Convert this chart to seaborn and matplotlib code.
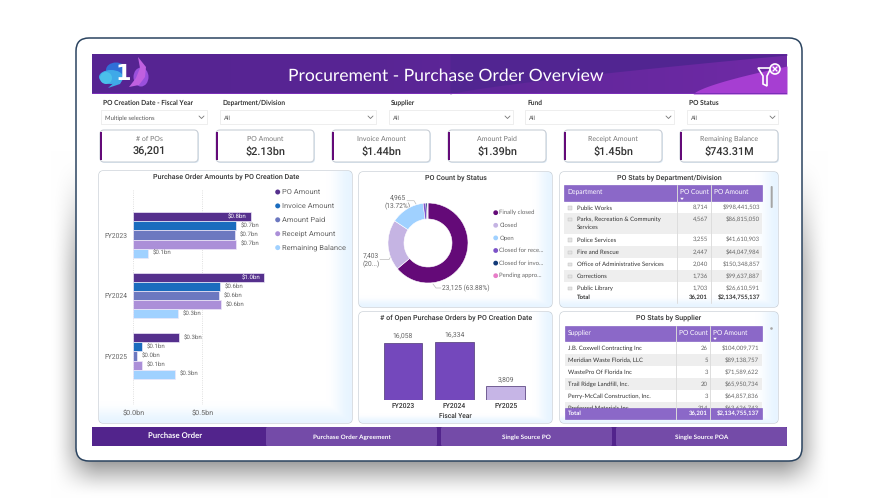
import numpy as np
import pandas as pd
import matplotlib
matplotlib.use("Agg")
import matplotlib.pyplot as plt
from matplotlib.patches import FancyBboxPatch, Rectangle, Circle, Ellipse, Polygon
import seaborn as sns

# --- data ---
years = ["FY2023", "FY2024", "FY2025"]
measures = ["PO Amount", "Invoice Amount", "Amount Paid", "Receipt Amount", "Remaining Balance"]
po_amount = [0.85, 0.95, 0.33]
invoice_amount = [0.745, 0.63, 0.063]
amount_paid = [0.735, 0.62, 0.03]
receipt_amount = [0.745, 0.635, 0.063]
remaining_balance = [0.105, 0.325, 0.30]
bar_labels = [
    ["$0.8bn", "$1.0bn", "$0.3bn"],
    ["$0.7bn", "$0.6bn", "$0.1bn"],
    ["$0.7bn", "$0.6bn", "$0.0bn"],
    ["$0.7bn", "$0.6bn", "$0.1bn"],
    ["$0.1bn", "$0.3bn", "$0.3bn"],
]
measure_colors = ["#55308D", "#1A6CBE", "#6C78C0", "#AB8FD8", "#A0D1FF"]

status_names = ["Finally closed", "Closed", "Open", "Closed for rece...", "Closed for invo...", "Pending appro..."]
status_counts = [23125, 7403, 4965, 400, 250, 58]
status_colors = ["#640A78", "#C5B4E3", "#A0D1FF", "#7C52C8", "#123A78", "#E77DC8"]

open_counts = [16058, 16334, 3809]
open_labels = ["16,058", "16,334", "3,809"]
open_colors = ["#7448BC", "#7448BC", "#C6B5E6"]

filter_names = ["PO Creation Date - Fiscal Year", "Department/Division", "Supplier", "Fund", "PO Status"]
filter_values = ["Multiple selections", "All", "All", "All", "All"]
card_names = ["# of POs", "PO Amount", "Invoice Amount", "Amount Paid", "Receipt Amount", "Remaining Balance"]
card_values = ["36,201", "$2.13bn", "$1.44bn", "$1.39bn", "$1.45bn", "$743.31M"]

dept_names = ["Public Works", "Parks, Recreation & Community\nServices", "Police Services", "Fire and Rescue",
              "Office of Administrative Services", "Corrections", "Public Library"]
dept_counts = ["8,714", "4,567", "3,255", "2,447", "2,040", "1,736", "1,703"]
dept_amounts = ["$998,441,503", "$86,815,050", "$41,610,903", "$44,047,984", "$150,348,857", "$99,637,887", "$26,610,591"]

supplier_names = ["J.B. Coxwell Contracting Inc", "Meridian Waste Florida, LLC", "WastePro Of Florida Inc",
                  "Trail Ridge Landfill, Inc.", "Perry-McCall Construction, Inc.", "Preferred Materials Inc"]
supplier_counts = ["26", "5", "3", "20", "3", "314"]
supplier_amounts = ["$104,009,771", "$89,138,757", "$71,589,622", "$65,950,734", "$64,857,836", "$63,626,743"]

tab_names = ["Purchase Order", "Purchase Order Agreement", "Single Source PO", "Single Source POA"]

W, H = 878, 500
UI = "Lato"
DIN = "Roboto"
GREY = "#666666"
DARK = "#333333"
PURPLE_HEAD = "#8B68C8"
BODY = 4.3

sns.set_theme(style="white")
plt.rcParams["font.family"] = [UI, "DejaVu Sans"]
plt.rcParams["text.hinting"] = "no_hinting"

fig = plt.figure(figsize=(W / 100, H / 100), dpi=100, facecolor="white")
bg = fig.add_axes([0, 0, 1, 1], zorder=0)


def px_axes(x0, y0, x1, y1):
    a = fig.add_axes([x0 / W, 1 - y1 / H, (x1 - x0) / W, (y1 - y0) / H], zorder=5)
    a.patch.set_alpha(0)
    return a


def smooth(t):
    t = np.clip(t, 0, 1)
    return t * t * (3 - 2 * t)


# soft shadow behind the device frame
yy, xx = np.mgrid[0:H, 0:W]
sx = smooth((xx - 50) / 50) * smooth((828 - xx) / 50)
sy = smooth((yy - 150) / 130) * smooth((498 - yy) / 55)
shade = 1 - 0.5 * sx * sy
bg.imshow(np.dstack([shade] * 3), extent=(0, W, H, 0), aspect="auto", zorder=0, vmin=0, vmax=1)

bg.add_patch(FancyBboxPatch((76, 38), 726, 423, boxstyle="round,pad=0,rounding_size=13",
                            fc="white", ec="#2B4460", lw=1.1, zorder=1))

# banner
gx = np.linspace(0, 1, 200)
banner = np.array([np.interp(gx, [0, 0.4, 1], [0x56, 0x58, 0x70]), np.interp(gx, [0, 0.4, 1], [0x24, 0x25, 0x2A]),
                   np.interp(gx, [0, 0.4, 1], [0x92, 0x94, 0xA6])]).T[None, :, :] / 255
bg.imshow(banner, extent=(92, 787, 94, 54), aspect="auto", zorder=2)
cx = np.linspace(450, 787, 80)
bg.fill_between(cx, 54, 94 - 39 * ((cx - 450) / 337) ** 0.8, color="#512591", lw=0, zorder=2.1)
cx = np.linspace(693, 787, 40)
bg.fill_between(cx, 94 - 28 * ((cx - 693) / 94) ** 0.7, 94, color="#A63ED2", lw=0, zorder=2.2)
bg.add_patch(Rectangle((92, 93), 695, 1, fc="#7A2FB8", lw=0, zorder=2.3))

# logo
for (ex, ey, ew, eh, col) in [(141, 77, 15, 19, "#9A50DC"), (116, 70, 20, 15, "#2F6FD8"),
                              (111, 77, 24, 14, "#3FA9E8"), (106, 78, 12, 12, "#4BC0EA")]:
    bg.add_patch(Ellipse((ex, ey), ew, eh, fc=col, lw=0, zorder=3))
bg.add_patch(Polygon([(138, 57), (146, 67), (145, 77), (139, 85), (129, 87), (136, 78), (140, 68)],
                     fc="#C060E0", lw=0, zorder=3.1))
bg.add_patch(Polygon([(108, 88), (117, 80), (125, 76), (120, 84)], fc="#3FA9E8", lw=0, zorder=3.1))
bg.text(123.5, 74, "1", color="white", fontsize=16, fontweight="heavy", ha="center", va="center",
        family="DejaVu Sans", zorder=4)

bg.text(445.5, 76.5, "Procurement - Purchase Order Overview", color="white", fontsize=12.6, ha="center",
        va="center", zorder=4)

# clear-filter icon
bg.add_patch(Polygon([(758, 68), (771, 68), (767, 76), (767, 86), (763, 84), (763, 76)], closed=True,
                     fc="none", ec="white", lw=1.2, zorder=4))
bg.add_patch(Circle((775, 69), 5, fc="#A63ED2", ec="white", lw=1.2, zorder=4.1))
bg.plot([773, 777], [67, 71], color="white", lw=1, zorder=4.2)
bg.plot([773, 777], [71, 67], color="white", lw=1, zorder=4.2)

# slicers
filter_x = [(101, 207), (220, 376), (389, 513), (525, 674), (687, 778)]
for (x0, x1), name, val in zip(filter_x, filter_names, filter_values):
    bg.text(x0 + 2, 102.5, name, fontsize=4.8, color=DARK, fontweight="bold", va="center", zorder=4)
    bg.add_patch(Rectangle((x0, 110), x1 - x0, 14, fc="white", ec="#EBEBEB", lw=0.6, zorder=3))
    bg.text(x0 + 4, 118, val, fontsize=BODY, color="#555555", va="center", zorder=4)
    bg.plot([x1 - 8, x1 - 5.5, x1 - 3], [116, 118.5, 116], color="#777777", lw=0.6, zorder=4)

# KPI cards
card_x = [100, 216, 332, 448, 564, 680]
for x0, name, val in zip(card_x, card_names, card_values):
    bg.add_patch(FancyBboxPatch((x0 + 1, 131), 98, 32, boxstyle="round,pad=0,rounding_size=4",
                                fc="#DDEBF6", ec="none", zorder=2.5))
    bg.add_patch(FancyBboxPatch((x0, 130), 98, 32, boxstyle="round,pad=0,rounding_size=4",
                                fc="white", ec="#C9CFD6", lw=0.8, zorder=3))
    bg.add_patch(Rectangle((x0, 132), 1.6, 28, fc="#640A78", lw=0, zorder=3.2))
    bg.text(x0 + 49, 139, name, fontsize=5.0, color="#777777", ha="center", va="center", zorder=4)
    bg.text(x0 + 49, 151.5, val, fontsize=7.8, color=DARK, family=DIN, fontweight="medium",
            ha="center", va="center", zorder=4)


# panels with pale blue glow on the right and bottom edges
def panel(x0, y0, x1, y1, title, tx):
    w, h = x1 - x0, y1 - y0
    px = np.linspace(0, 1, 120)
    py = np.linspace(0, 1, 120)
    glow = np.maximum(smooth((px - 0.9) / 0.1)[None, :], smooth((py - 0.92) / 0.08)[:, None])
    img = np.ones((120, 120, 3))
    img[..., 0] -= glow * 0.09
    img[..., 1] -= glow * 0.04
    box = FancyBboxPatch((x0, y0), w, h, boxstyle="round,pad=0,rounding_size=4", fc="white",
                         ec="#BFC7CF", lw=0.8, zorder=3)
    bg.add_patch(box)
    im = bg.imshow(img, extent=(x0, x1, y1, y0), aspect="auto", zorder=3.1)
    im.set_clip_path(box)
    bg.text(tx, y0 + 5.5, title, fontsize=5.1, family=DIN, fontweight="medium", color=DARK, ha="center",
            va="center", zorder=4)


panel(99, 171, 352, 423, "Purchase Order Amounts by PO Creation Date", 225.7)
panel(359, 172, 552, 307, "PO Count by Status", 455.7)
panel(359, 312, 552, 423, "# of Open Purchase Orders by PO Creation Date", 455.7)
panel(560, 172, 778, 307, "PO Stats by Department/Division", 669)
panel(560, 312, 778, 423, "PO Stats by Supplier", 669)

# --- clustered bars ---
bars = pd.DataFrame({
    "year": years * len(measures),
    "measure": np.repeat(measures, len(years)),
    "value": po_amount + invoice_amount + amount_paid + receipt_amount + remaining_balance,
})
ax = px_axes(133.3, 190, 350, 405)
sns.barplot(data=bars, y="year", x="value", hue="measure", hue_order=measures, palette=measure_colors,
            order=years, width=0.75, gap=0, dodge=True, saturation=1, legend=False, ax=ax,
            edgecolor="#EDE7F8", linewidth=0.5)
ax.set_ylim(2.81, -0.744)
ax.set_xlim(0, 1.57)
ax.set_xticks([0, 0.5])
ax.set_xticklabels(["$0.0bn", "$0.5bn"], fontsize=5.2, color=GREY, family=DIN)
ax.tick_params(axis="x", length=0, pad=3.5)
ax.tick_params(axis="y", length=0, pad=4)
ax.set_xlabel("")
ax.set_ylabel("")
for t in ax.get_yticklabels():
    t.set_fontsize(4.9)
    t.set_color(GREY)
    t.set_family(DIN)
ax.grid(axis="x", color="#D5D5D5", ls=":", lw=0.6)
ax.set_axisbelow(True)
sns.despine(ax=ax, left=True, bottom=True)
for container, labels in zip(ax.containers, bar_labels):
    for patch, text in zip(container, labels):
        inside = patch.get_width() > 0.8
        ax.annotate(text, (patch.get_width(), patch.get_y() + patch.get_height() / 2),
                    xytext=(-3 if inside else 3.4, 0), textcoords="offset points",
                    ha="right" if inside else "left", va="center", fontsize=4.4, family=DIN,
                    color="white" if inside else GREY)

for i, (name, col) in enumerate(zip(measures, measure_colors)):
    ly = 192 + i * 13.9
    bg.add_patch(Circle((277.7, ly), 2.5, fc=col, lw=0, zorder=4))
    bg.text(282, ly, name, fontsize=5.4, family=DIN, color=GREY, va="center", zorder=4)

# --- donut ---
ax = px_axes(378, 203, 478, 283)
ax.pie(status_counts, colors=status_colors, startangle=90, counterclock=False, radius=1,
       wedgeprops=dict(width=0.4, lw=0.4, edgecolor="white"))
ax.set_xlim(-1.25, 1.25)
ax.set_ylim(-1, 1)
ax.set_aspect("equal")
for pts, txt, tx, ty, ha in [([(407, 200.7), (414, 200.7), (416, 204)], "4,965\n(13.72%)", 397.7, 202.5, "center"),
                             ([(380, 259.6), (389, 259.6), (391, 256)], "7,403\n(20...)", 370.7, 260.5, "center"),
                             ([(433, 284), (436, 288), (441, 288)], "23,125 (63.88%)", 442.5, 288.3, "left")]:
    bg.plot(*zip(*pts), color="#BBBBBB", lw=0.5, zorder=4)
    bg.text(tx, ty, txt, fontsize=4.8, family=DIN, color=GREY, ha=ha, va="center", linespacing=1.25, zorder=4)
for i, (name, col) in enumerate(zip(status_names, status_colors)):
    ly = 212.7 + i * 12.6
    bg.add_patch(Circle((495.7, ly), 2.4, fc=col, lw=0, zorder=4))
    bg.text(499.5, ly, name, fontsize=BODY, color=GREY, va="center", zorder=4)

# --- open purchase orders ---
opens = pd.DataFrame({"year": years, "count": open_counts})
ax = px_axes(377.4, 330, 531.3, 400)
sns.barplot(data=opens, x="year", y="count", hue="year", palette=open_colors, order=years, width=0.75,
            saturation=1, legend=False, ax=ax, edgecolor="#5F4A85", linewidth=0.6)
ax.set_xlim(-0.5, 2.5)
ax.set_ylim(0, 19720)
ax.set_yticks([])
ax.set_xlabel("")
ax.set_ylabel("")
ax.tick_params(axis="x", length=0, pad=2)
for t in ax.get_xticklabels():
    t.set_fontsize(4.9)
    t.set_family(DIN)
    t.set_fontweight("medium")
    t.set_color(DARK)
sns.despine(ax=ax, left=True, bottom=True)
for patch, text in zip(ax.patches, open_labels):
    ax.annotate(text, (patch.get_x() + patch.get_width() / 2, patch.get_height()), xytext=(0, 4.8),
                textcoords="offset points", ha="center", va="center", fontsize=4.9, family=DIN, color=GREY)
bg.text(455.7, 416.5, "Fiscal Year", fontsize=4.8, family=DIN, fontweight="medium", color=DARK, ha="center",
        va="center", zorder=4)


# --- tables ---
def table_head(x0, x1, s1, s2, y0, y1, first, sort_x):
    bg.add_patch(Rectangle((x0, y0), x1 - x0, y1 - y0, fc=PURPLE_HEAD, ec="#7A55BE", lw=0.4, zorder=4))
    for s in (s1, s2):
        bg.plot([s, s], [y0, y1], color="#D8D8D8", lw=0.7, zorder=4.3)
    my = y0 + 6.5
    bg.text(x0 + 3, my, first, fontsize=4.8, color="white", va="center", zorder=5)
    bg.text(s1 + 3, my, "PO Count", fontsize=4.8, color="white", va="center", zorder=5)
    bg.text(s2 + 3, my, "PO Amount", fontsize=4.8, color="white", va="center", zorder=5)
    bg.add_patch(Polygon([(sort_x - 1.8, y1 - 3.2), (sort_x + 1.8, y1 - 3.2), (sort_x, y1 - 1)], fc="white",
                         lw=0, zorder=5))


table_head(564.3, 762, 677, 711, 185, 201, "Department", 682)
dept_rows = [(201.5, 213), (213, 233.5), (233.5, 246), (246, 258), (258, 270), (270, 282), (282, 293)]
for i, ((r0, r1), name, cnt, amt) in enumerate(zip(dept_rows, dept_names, dept_counts, dept_amounts)):
    if i % 2 == 1:
        bg.add_patch(Rectangle((564.3, r0), 197.7, r1 - r0, fc="#EEEEEE", lw=0, zorder=3.5))
    ty = r0 + 6.3
    bg.add_patch(Rectangle((568.2, ty - 1.8), 3.6, 3.6, fc="#E4E4E4", ec="#BBBBBB", lw=0.3, zorder=4))
    two_lines = "\n" in name
    bg.text(577, ty - 3 if two_lines else ty, name, fontsize=BODY, color=DARK, va="top" if two_lines else "center",
            zorder=5, linespacing=1.55)
    bg.text(708, ty, cnt, fontsize=BODY, color=GREY, ha="right", va="center", zorder=5)
    bg.text(760, ty, amt, fontsize=BODY, color=GREY, ha="right", va="center", zorder=5)
for s in (677, 711):
    bg.plot([s, s], [201, 303], color="#DDDDDD", lw=0.7, zorder=4.2)
bg.text(577, 297.6, "Total", fontsize=BODY, color=DARK, fontweight="bold", va="center", zorder=5)
bg.text(708, 297.6, "36,201", fontsize=BODY, color=DARK, fontweight="bold", ha="right", va="center", zorder=5)
bg.text(760, 297.6, "$2,134,755,137", fontsize=BODY, color=DARK, fontweight="bold", ha="right", va="center", zorder=5)
bg.add_patch(FancyBboxPatch((770.7, 186), 2, 22, boxstyle="round,pad=0,rounding_size=1", fc="#A5A5A5", lw=0, zorder=5))

table_head(565, 762, 676, 710, 326, 341, "Supplier", 715)
for i, (name, cnt, amt) in enumerate(zip(supplier_names, supplier_counts, supplier_amounts)):
    ty = 348 + i * 12
    if i % 2 == 1:
        bg.add_patch(Rectangle((565, ty - 6), 197, 12, fc="#EEEEEE", lw=0, zorder=3.5))
    bg.text(568, ty, name, fontsize=BODY, color=DARK, va="center", zorder=4.4)
    bg.text(708, ty, cnt, fontsize=BODY, color=GREY, ha="right", va="center", zorder=4.4)
    bg.text(759, ty, amt, fontsize=BODY, color=GREY, ha="right", va="center", zorder=4.4)
for s in (676, 710):
    bg.plot([s, s], [341, 419], color="#DDDDDD", lw=0.7, zorder=4.6)
bg.add_patch(Rectangle((565, 408), 197, 11, fc=PURPLE_HEAD, ec="#7A55BE", lw=0.4, zorder=4.5))
for s in (676, 710):
    bg.plot([s, s], [408, 419], color="#D8D8D8", lw=0.7, zorder=4.7)
bg.text(568, 413.7, "Total", fontsize=BODY, color="white", fontweight="bold", va="center", zorder=5)
bg.text(708, 413.7, "36,201", fontsize=BODY, color="white", fontweight="bold", ha="right", va="center", zorder=5)
bg.text(759, 413.7, "$2,134,755,137", fontsize=BODY, color="white", fontweight="bold", ha="right", va="center", zorder=5)
bg.add_patch(Circle((771.5, 328.5), 1.3, fc="#A5A5A5", lw=0, zorder=5))

# --- page tabs ---
bg.add_patch(Rectangle((92, 427), 695, 19, fc="#52248C", lw=0, zorder=3))
tab_x = [(92, 263), (266, 437), (441, 612), (616, 787)]
for i, ((x0, x1), name) in enumerate(zip(tab_x, tab_names)):
    if i > 0:
        bg.add_patch(FancyBboxPatch((x0, 427), x1 - x0, 19, boxstyle="round,pad=0,rounding_size=1.5",
                                    fc="#744BA8", lw=0, zorder=3.2))
    bg.text((x0 + x1) / 2 - (0 if i else 2), 437, name, color="white", fontsize=5.6 if i == 0 else 4.6,
            fontweight="bold", ha="center", va="center", zorder=4)

bg.set_xlim(0, W)
bg.set_ylim(H, 0)
bg.axis("off")

fig.savefig("out.png", dpi=100)
